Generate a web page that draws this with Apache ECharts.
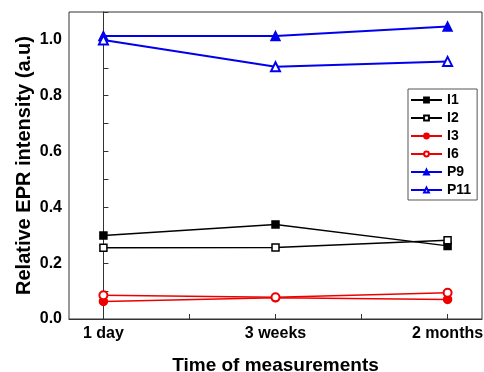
<!DOCTYPE html>
<html>
<head>
<meta charset="utf-8">
<script src="https://cdn.jsdelivr.net/npm/echarts@6/dist/echarts.min.js"></script>
<style>
    html, body { margin: 0; padding: 0; background: #fff; }
    #chart { width: 484px; height: 372px; }
</style>
</head>
<body>
<div id="chart"></div>
<script>
const categories = ['1 day', '3 weeks', '2 months'];
const yLabels = [0, 0.2, 0.4, 0.6, 0.8, 1.0];

const I1 = [0.299, 0.339, 0.262];
const I2 = [0.255, 0.256, 0.282];
const I3 = [0.063, 0.076, 0.070];
const I6 = [0.085, 0.078, 0.094];
const P9 = [1.014, 1.014, 1.048];
const P11 = [1.0, 0.904, 0.923];

const font = 'Liberation Sans, Arial, sans-serif';

// category index -> x position on the value axis
const toPoints = (vals) => vals.map((v, i) => [i, v]);

const makeSeries = (name, vals, color, symbol, size, width) => ({
    name: name,
    type: 'line',
    data: toPoints(vals),
    symbol: symbol,
    symbolSize: size,
    showSymbol: true,
    lineStyle: { color: color, width: width },
    itemStyle: { color: color, borderColor: color, borderWidth: 1.5 },
    emphasis: { disabled: true },
});

const chart = echarts.init(document.getElementById('chart'));

const option = {
    animation: false,
    backgroundColor: '#fff',
    grid: {
        left: 69,
        right: 2,
        top: 12,
        bottom: 53,
        outerBoundsMode: 'none',
        show: true,
        borderColor: '#333',
        borderWidth: 1,
    },
    xAxis: {
        type: 'value',
        min: -0.2,
        max: 2.2,
        name: 'Time of measurements',
        nameLocation: 'middle',
        nameGap: 37,
        nameMoveOverlap: false,
        nameTextStyle: { fontFamily: font, fontWeight: 'bold', fontSize: 19, color: '#000' },
        axisLine: { lineStyle: { color: '#333', width: 1 } },
        axisTick: {
            inside: true,
            length: 5,
            customValues: [0, 0.5, 1, 1.5, 2],
            lineStyle: { color: '#333' },
        },
        axisLabel: {
            customValues: [0, 1, 2],
            formatter: (v) => categories[Math.round(v)],
            margin: 7,
            fontFamily: font,
            fontWeight: 'bold',
            fontSize: 16,
            color: '#000',
        },
        splitLine: { show: false },
    },
    yAxis: {
        type: 'value',
        min: 0,
        max: 1.1,
        interval: 0.1,
        name: 'Relative EPR intensity (a.u)',
        nameLocation: 'middle',
        nameGap: 35,
        nameMoveOverlap: false,
        nameTextStyle: { fontFamily: font, fontWeight: 'bold', fontSize: 20, color: '#000' },
        axisLine: { show: true, lineStyle: { color: '#333', width: 1 } },
        axisTick: { show: true, inside: true, length: 5, lineStyle: { color: '#333' } },
        axisLabel: {
            customValues: yLabels,
            formatter: (v) => v.toFixed(1),
            margin: 7,
            fontFamily: font,
            fontWeight: 'bold',
            fontSize: 16,
            color: '#000',
        },
        splitLine: { show: false },
    },
    legend: {
        orient: 'vertical',
        left: 408,
        top: 89,
        padding: [4, 6, 3, 2],
        itemGap: 4,
        itemWidth: 31,
        itemHeight: 6,
        borderColor: '#555',
        borderWidth: 1,
        backgroundColor: '#fff',
        textStyle: { fontFamily: font, fontWeight: 'bold', fontSize: 14, color: '#000', lineHeight: 14 },
        data: ['I1', 'I2', 'I3', 'I6', 'P9', 'P11'],
    },
    series: [
        makeSeries('I1', I1, '#000000', 'rect', 7, 1.5),
        {
            ...makeSeries('I2', I2, '#000000', 'rect', 7, 1.5),
            itemStyle: { color: '#fff', borderColor: '#000', borderWidth: 1.5 },
        },
        makeSeries('I3', I3, '#ee0000', 'circle', 8, 1.5),
        makeSeries('I6', I6, '#ee0000', 'emptyCircle', 8, 1.5),
        makeSeries('P9', P9, '#0000ee', 'triangle', 9, 2),
        makeSeries('P11', P11, '#0000ee', 'emptyTriangle', 9, 2),
    ],
};

chart.setOption(option);
</script>
</body>
</html>
